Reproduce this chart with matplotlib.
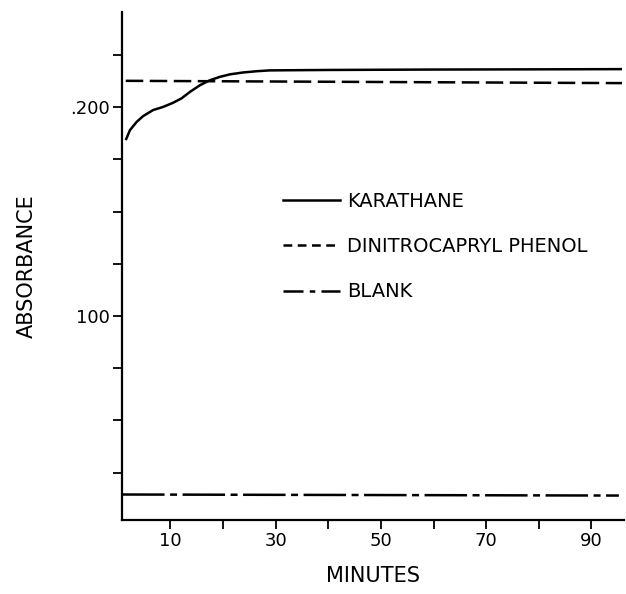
import numpy as np
import matplotlib.pyplot as plt
from matplotlib.lines import Line2D

# values
karathane_min = [1.5, 2.3, 3.6, 4.8, 6.7, 8.6, 10.5, 12.1, 13.7, 15.6, 17.5,
                 19.4, 21.3, 23.8, 26.4, 28.9, 40, 60, 80, 95.8]
karathane_abs = [0.1842, 0.1890, 0.1930, 0.1957, 0.1986, 0.2001, 0.2021, 0.2042,
                 0.2073, 0.2105, 0.2129, 0.2145, 0.2157, 0.2166, 0.2172, 0.2176,
                 0.2178, 0.2180, 0.2181, 0.2182]

dnc_min = [1.5, 95.8]
dnc_abs = [0.2126, 0.2115]

blank_min = [0.8, 95.2]
blank_abs = [0.0145, 0.0140]

x_ticks = [10, 20, 30, 40, 50, 60, 70, 80, 90]
x_labels = ['10', '', '30', '', '50', '', '70', '', '90']
y_ticks = [0.025, 0.050, 0.075, 0.100, 0.125, 0.150, 0.175, 0.200, 0.225]
y_labels = ['', '', '', '100', '', '', '', '.200', '']

plt.rcParams['font.family'] = ['DejaVu Sans']

fig = plt.figure(figsize=(6.26, 5.94), dpi=100)
ax = fig.add_axes([0.195, 0.1246, 0.802, 0.855])

lw = 1.8
dash = (0, (7, 2.6))
dashdot = (0, (17, 2.2, 2.8, 2.2))

ax.plot(karathane_min, karathane_abs, color='black', lw=lw, solid_capstyle='butt')
ax.plot(dnc_min, dnc_abs, color='black', lw=lw, linestyle=dash)
ax.plot(blank_min, blank_abs, color='black', lw=lw, linestyle=dashdot)

ax.set_xlim(0.8, 96.2)
ax.set_ylim(0.0023, 0.2455)

for s in ['top', 'right']:
    ax.spines[s].set_visible(False)
for s in ['left', 'bottom']:
    ax.spines[s].set_linewidth(1.6)

ax.set_xticks(x_ticks)
ax.set_xticklabels(x_labels)
ax.set_yticks(y_ticks)
ax.set_yticklabels(y_labels)
ax.tick_params(axis='both', direction='out', length=6.5, width=1.3,
               labelsize=13, pad=2)

ax.set_xlabel('MINUTES', fontsize=15, labelpad=12)
ax.set_ylabel('ABSORBANCE', fontsize=15, labelpad=24)

handles = [
    Line2D([], [], color='black', lw=lw),
    Line2D([], [], color='black', lw=lw, linestyle=(0, (3.5, 2.2))),
    Line2D([], [], color='black', lw=lw, linestyle=(0, (8, 2.5, 2.2, 2.5))),
]
labels = ['KARATHANE', 'DINITROCAPRYL PHENOL', 'BLANK']
ax.legend(handles, labels, loc='upper left', bbox_to_anchor=(0.452, 0.677),
          bbox_transform=fig.transFigure, frameon=False, fontsize=14,
          handlelength=2.93, handletextpad=0.36, labelspacing=1.35,
          borderaxespad=0, borderpad=0)

fig.savefig('out.png', dpi=100)
